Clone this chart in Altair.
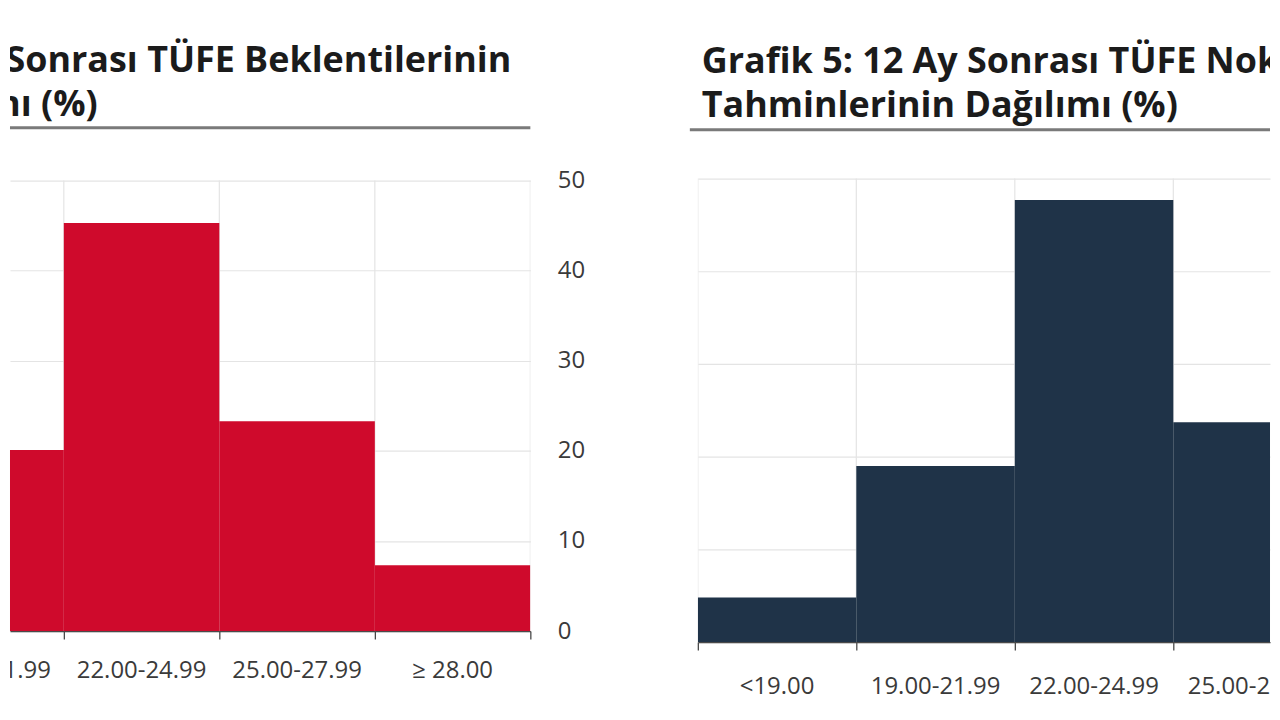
import altair as alt
import pandas as pd

# ---------------- data ----------------
# Left panel (Grafik 4): bins visible on the page ("<19.00" bin lies off-page)
left_all_bins = ["<19.00", "19.00-21.99", "22.00-24.99", "25.00-27.99", "≥ 28.00"]
left_categories = ["19.00-21.99", "22.00-24.99", "25.00-27.99", "≥ 28.00"]
left_values = [20.1, 45.3, 23.3, 7.3]

# Right panel (Grafik 5): bins visible on the page ("≥ 28.00" bin lies off-page)
right_all_bins = ["<19.00", "19.00-21.99", "22.00-24.99", "25.00-27.99", "≥ 28.00"]
right_categories = ["<19.00", "19.00-21.99", "22.00-24.99", "25.00-27.99"]
right_values = [4.8, 19.0, 47.7, 23.7]

y_ticks = [0, 10, 20, 30, 40, 50]

left_title = ["Grafik 4: 12 Ay Sonrası TÜFE Beklentilerinin", "Olasılık Dağılımı (%)"]
right_title = ["Grafik 5: 12 Ay Sonrası TÜFE Nokta", "Tahminlerinin Dağılımı (%)"]

# ---------------- styling / layout ----------------
FONT = "Open Sans"
RED = "#CF0A2C"
NAVY = "#1F3348"
GRID = "#E4E4E4"
AXIS = "#3a3a3a"
TITLE = "#1b1b1b"
H = 692


def bins_frame(all_bins, cats, vals):
    idx = [all_bins.index(c) for c in cats]
    return pd.DataFrame({
        "cat": cats,
        "value": vals,
        "start": idx,
        "end": [i + 1 for i in idx],
        "mid": [i + 0.5 for i in idx],
    })


def panel(df, color, xdom, ydom, width, zero_px, y_axis, label_y,
          title_lines, title_xs, title_align, title_ys, ul_x, ul_x2, ul_y):
    xs = alt.Scale(domain=xdom, nice=False, zero=False)
    ys = alt.Scale(domain=ydom, nice=False, zero=False)
    edges = sorted(set(df["start"].tolist() + df["end"].tolist()))
    tick_edges = [e for e in edges if xdom[0] - 1e-9 <= e <= xdom[1] + 1e-9]
    edge_df = pd.DataFrame({"edge": edges})

    x_axis = alt.Axis(values=tick_edges, labels=False, ticks=True, tickSize=8,
                      tickColor=AXIS, tickWidth=1.2, domain=True, domainColor="#4a4a4a",
                      domainWidth=1.2, grid=False, title=None, orient="bottom",
                      offset=-(H - zero_px), zindex=2)

    vgrid = alt.Chart(edge_df).mark_rule(color=GRID, strokeWidth=1.2, clip=True).encode(
        x=alt.X("edge:Q", scale=xs, axis=x_axis),
        y=alt.Y(datum=0, scale=ys, axis=y_axis),
        y2=alt.datum(max(y_ticks)),
    )
    bars = alt.Chart(df).mark_rect(color=color, clip=True).encode(
        x=alt.X("start:Q", scale=xs),
        x2="end:Q",
        y=alt.Y("value:Q", scale=ys),
        y2=alt.datum(0),
    )
    labels = alt.Chart(df).mark_text(font=FONT, fontSize=24, color=AXIS,
                                     baseline="middle", align="center", clip=True).encode(
        x=alt.X("mid:Q", scale=xs),
        y=alt.value(label_y),
        text="cat:N",
    )
    layers = [vgrid, bars, labels]
    for line, tx, ty in zip(title_lines, title_xs, title_ys):
        layers.append(
            alt.Chart(pd.DataFrame({"t": [line]})).mark_text(
                font=FONT, fontSize=36, fontWeight="bold", color=TITLE,
                align=title_align, baseline="alphabetic", clip=True
            ).encode(x=alt.value(tx), y=alt.value(ty), text="t:N")
        )
    layers.append(
        alt.Chart(pd.DataFrame({"t": [0]})).mark_rule(color="#7a7a7a", strokeWidth=3).encode(
            x=alt.value(ul_x), x2=alt.value(ul_x2), y=alt.value(ul_y)
        )
    )
    return alt.layer(*layers).properties(width=width, height=H)


# left panel: plot spans page x 8..530, value 0 at page y 632, 50 at 180
L_W = 522
L_BIN = 156.0
L_ZERO = 632 - 8
L_PX = (632 - 180) / 50.0
left_xdom = [2 - (62 - 8) / L_BIN, 2 + (L_W - (62 - 8)) / L_BIN]
left_ydom = [-(H - L_ZERO) / L_PX, L_ZERO / L_PX]
left_yaxis = alt.Axis(orient="right", values=y_ticks, labels=True, ticks=False, domain=False,
                      grid=True, gridColor=GRID, gridWidth=1.2, labelFont=FONT, labelFontSize=24,
                      labelColor=AXIS, labelPadding=27, labelAlign="left", title=None)

left = panel(bins_frame(left_all_bins, left_categories, left_values), RED,
             left_xdom, left_ydom, L_W, L_ZERO, left_yaxis, 664,
             left_title, [503, 88], "right", [63, 107], 0, L_W, 119)

# right panel: plot spans page x 698..1272, value 0 at page y 643, 50 at 178
R_W = 574
R_BIN = 159.0
R_ZERO = 643 - 8
R_PX = (643 - 178) / 50.0
right_xdom = [0.0, R_W / R_BIN]
right_ydom = [-(H - R_ZERO) / R_PX, R_ZERO / R_PX]
right_yaxis = alt.Axis(orient="left", values=y_ticks, labels=False, ticks=False, domain=False,
                       grid=True, gridColor=GRID, gridWidth=1.2, title=None)

right = panel(bins_frame(right_all_bins, right_categories, right_values), NAVY,
              right_xdom, right_ydom, R_W, R_ZERO, right_yaxis, 680,
              right_title, [4, 4], "left", [64, 108], -8, R_W, 121)

chart = alt.hconcat(left, right, spacing=168, bounds="flush").properties(
    padding=0, background="white"
).configure_view(stroke=None)

chart.save("out.html", embed_options={"renderer": "svg", "actions": False})
